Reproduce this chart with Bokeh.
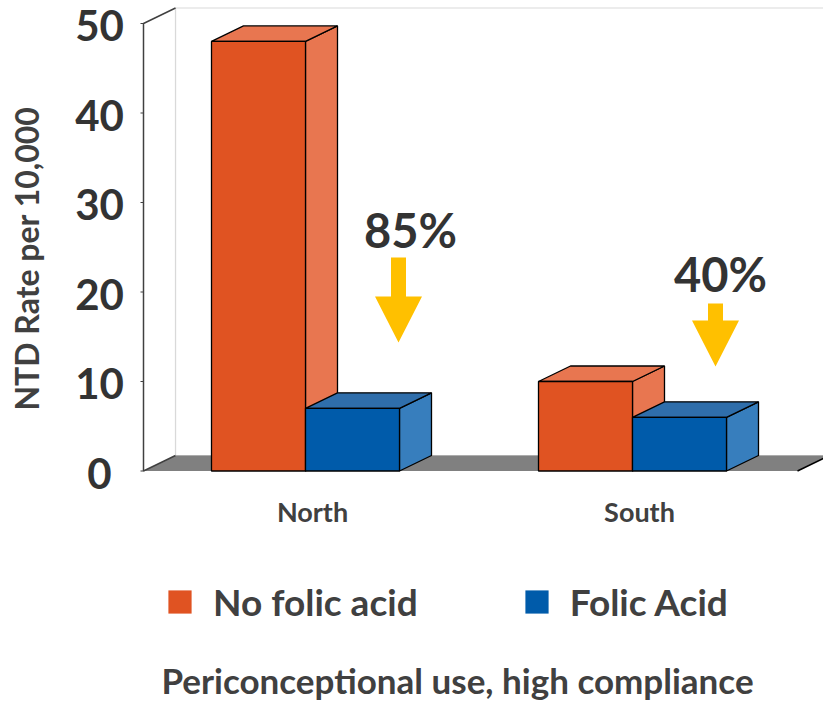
import math
from bokeh.plotting import figure
from bokeh.models import Range1d, Legend, LegendItem
from bokeh.core.properties import value
from bokeh.embed import file_html
from bokeh.resources import INLINE

# ---- data -------------------------------------------------------------
regions = ["North", "South"]
no_folic = [48.0, 10.0]        # NTD rate per 10,000, no folic acid
folic = [7.0, 6.0]             # NTD rate per 10,000, folic acid
reductions = ["85%", "40%"]
y_ticks = [0, 10, 20, 30, 40, 50]
series_names = ["No folic acid", "Folic Acid"]
y_title = "NTD Rate per 10,000"
x_title = "Periconceptional use, high compliance"

# ---- layout constants (pixels) -----------------------------------------
W, H = 823, 701
PX0 = 305.0     # x pixel of the first group's centre line
PXG = 327.0     # pixels between groups
PY0 = 470.5     # y pixel of value 0 on the front plane
PYU = 8.95      # pixels per unit of rate


def sx(px):
    return px / PXG


def sy(px):
    return px / PYU


def xat(px):
    return (px - PX0) / PXG


def yat(px):
    return (PY0 - px) / PYU


BW = sx(94)          # bar width
DX, DY = sx(32), sy(15.5)   # depth offset of the pseudo-3D box
AX = xat(143)        # front edge of the value axis
FR = xat(797)        # front-right corner of the floor
WR = xat(W + 20)     # back wall runs off to the right
YMAX = y_ticks[-1]

FONT = value("Lato")
DARK = "#404040"

p = figure(width=W, height=H,
           x_range=Range1d(xat(0), xat(W)), y_range=Range1d(yat(H), yat(0)),
           x_axis_location=None, y_axis_location=None,
           output_backend="svg", toolbar_location=None, min_border=0)
p.grid.visible = False
p.outline_line_color = None
p.background_fill_color = "white"
p.border_fill_color = "white"

# ---- walls and floor ----------------------------------------------------
p.quad(left=[AX + DX], right=[WR], bottom=[DY], top=[YMAX + DY],
       fill_color="white", line_color="#D9D9D9", line_width=1.2)
p.patch([AX, FR, FR + DX, AX + DX], [0, 0, DY, DY],
        fill_color="#808080", line_color=None)
p.line([FR, FR + DX], [0, DY], line_color="black", line_width=1.5)
p.patch([AX, AX, AX + DX, AX + DX], [0, YMAX, YMAX + DY, DY],
        fill_color="white", line_color=None)
p.line([AX + DX, AX + DX], [DY, YMAX + DY], line_color="#D9D9D9", line_width=1.2)
p.line([AX + DX, AX, AX, AX + DX], [YMAX + DY, YMAX, 0, DY],
       line_color=DARK, line_width=1.5)

# tick marks and tick labels on the front plane
p.segment(x0=[AX - sx(3)] * len(y_ticks), x1=[AX] * len(y_ticks),
          y0=y_ticks, y1=y_ticks, line_color=DARK, line_width=1.2)
p.text(x=[xat(99)] * len(y_ticks), y=y_ticks, text=[str(t) for t in y_ticks],
       text_font=FONT, text_font_style="bold", text_font_size="42px",
       text_color="#333333", text_align="center", text_baseline="middle",
       y_offset=2)

# ---- 3D bars ------------------------------------------------------------
series = [
    (no_folic, -BW, "#E05322", "#E87650", "#E87650"),
    (folic, 0.0, "#005BAA", "#2F6EAB", "#377EBD"),
]
front_renderers = []
for vals, off, c_front, c_top, c_side in series:
    lefts = [i + off for i in range(len(regions))]
    rights = [l + BW for l in lefts]
    side_xs = [[r, r + DX, r + DX, r] for r in rights]
    side_ys = [[0, DY, v + DY, v] for v in vals]
    top_xs = [[l, r, r + DX, l + DX] for l, r in zip(lefts, rights)]
    top_ys = [[v, v, v + DY, v + DY] for v in vals]
    p.patches(side_xs, side_ys, fill_color=c_side, line_color="black", line_width=1.3)
    p.patches(top_xs, top_ys, fill_color=c_top, line_color="black", line_width=1.3)
    fr = p.quad(left=lefts, right=rights, bottom=[0] * len(vals), top=vals,
                fill_color=c_front, line_color=None)
    p.quad(left=lefts, right=rights, bottom=[0] * len(vals), top=vals,
           fill_color=None, line_color="black", line_width=1.3)
    front_renderers.append(fr)

# ---- reduction arrows and labels ---------------------------------------
arrow_x = [0 + sx(93), 1 + sx(83)]
arrow_tip = [yat(342), yat(366)]
arrow_top = [yat(257), yat(303)]
head_len, head_half, shaft_half = sy(46), sx(23.5), sx(7.5)
axs, ays = [], []
for x, tip, top in zip(arrow_x, arrow_tip, arrow_top):
    base = tip + head_len
    axs.append([x - shaft_half, x + shaft_half, x + shaft_half, x + head_half,
                x, x - head_half, x - shaft_half])
    ays.append([top, top, base, base, tip, base, base])
p.patches(axs, ays, fill_color="#FFC000", line_color=None)

p.text(x=[0 + sx(105), 1 + sx(88)], y=[yat(229), yat(273)], text=reductions,
       text_font=FONT, text_font_style="bold", text_font_size="47px",
       text_color="#333333", text_align="center", text_baseline="middle")

# ---- category labels and titles ----------------------------------------
p.text(x=[i + sx(7) for i in range(len(regions))], y=[yat(511)] * len(regions),
       text=regions, text_font=FONT, text_font_style="bold", text_font_size="27px",
       text_color=DARK, text_align="center", text_baseline="middle")

p.text(x=[xat(26)], y=[yat(258)], text=[y_title], angle=math.pi / 2,
       text_font=FONT, text_font_style="bold", text_font_size="32px",
       text_color=DARK, text_align="center", text_baseline="middle")

p.text(x=[xat(457)], y=[yat(679)], text=[x_title],
       text_font=FONT, text_font_style="bold", text_font_size="35px",
       text_color=DARK, text_align="center", text_baseline="middle")

# ---- legend -------------------------------------------------------------
legend = Legend(
    items=[LegendItem(label=n, renderers=[r]) for n, r in zip(series_names, front_renderers)],
    orientation="horizontal", location=(165, H - 624),
    glyph_width=29, glyph_height=29, label_standoff=19, spacing=104,
    padding=0, margin=0, border_line_color=None, background_fill_alpha=0,
    label_text_font="Lato", label_text_font_style="bold",
    label_text_font_size="37px", label_text_color=DARK,
)
p.add_layout(legend)

open("out.html", "w").write(file_html(p, INLINE))
